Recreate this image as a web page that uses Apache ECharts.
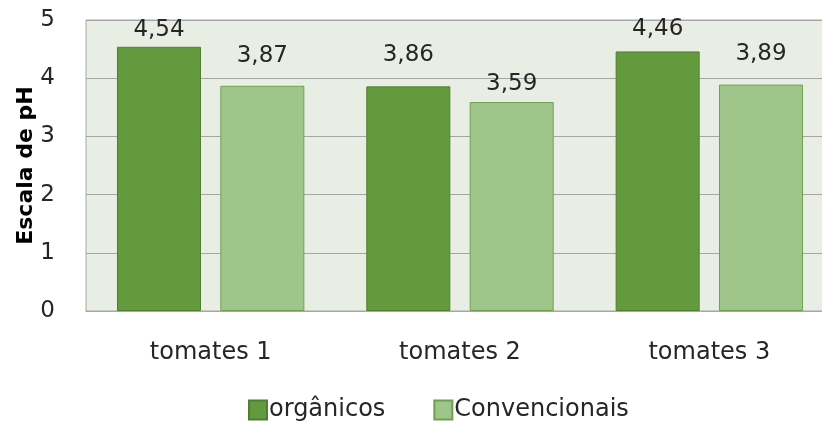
<!DOCTYPE html>
<html>
<head>
    <meta charset="utf-8">
    <title>pH tomates</title>
    <script src="https://cdn.jsdelivr.net/npm/echarts@6/dist/echarts.min.js"></script>
    <style>
        html, body { margin: 0; padding: 0; background: #fff; overflow: hidden; }
        /* the original plot runs past the right edge of the picture */
        #main { width: 834px; height: 421px; }
    </style>
</head>
<body>
    <div id="main"></div>
<script>
var categories = ['tomates 1', 'tomates 2', 'tomates 3'];
var organicos = [4.54, 3.86, 4.46];
var convencionais = [3.87, 3.59, 3.89];
var yTicks = [0, 1, 2, 3, 4, 5];

// the labels were moved by hand in the original, so each one has its own gap
var gapOrg = [5, 20, 11];
var gapConv = [18, 7, 19];

var font = "'DejaVu Sans', sans-serif";
var myChart = echarts.init(document.getElementById('main'));

var fmt = function (p) {
    return p.value.toFixed(2).replace('.', ',');
};

var withGaps = function (values, gaps) {
    var res = [];
    for (var i = 0; i < values.length; i++) {
        res.push({ value: values[i], label: { distance: gaps[i] } });
    }
    return res;
};

var option = {
    animation: false,
    textStyle: { fontFamily: font },
    grid: {
        left: 86, right: 0, top: 20, bottom: 110,
        show: true,
        backgroundColor: '#e9eee5',
        borderColor: '#a6a6a6',
        borderWidth: 1
    },
    legend: {
        top: 398,
        left: 248,
        padding: 0,
        icon: 'rect',
        itemWidth: 18,
        itemHeight: 19,
        itemGap: 48,
        textStyle: { fontSize: 24, lineHeight: 19, color: '#262626', fontFamily: font, padding: [0, 0, 0, -3] },
        data: ['orgânicos', 'Convencionais']
    },
    xAxis: {
        type: 'category',
        data: categories,
        axisLine: { show: true, lineStyle: { color: '#a6a6a6' } },
        axisTick: { show: false },
        axisLabel: { fontSize: 24, color: '#262626', margin: 30, fontFamily: font }
    },
    yAxis: {
        type: 'value',
        min: yTicks[0],
        max: yTicks[yTicks.length - 1],
        interval: 1,
        name: 'Escala de pH',
        nameLocation: 'middle',
        nameGap: 49,
        nameMoveOverlap: false,
        nameTextStyle: { fontSize: 22, fontWeight: 'bold', color: '#000', fontFamily: font },
        axisLine: { show: false },
        axisTick: { show: false },
        axisLabel: { fontSize: 23, color: '#262626', margin: 31, fontFamily: font },
        splitLine: { lineStyle: { color: '#a6a6a6', width: 1 } }
    },
    series: [
        {
            name: 'orgânicos',
            type: 'bar',
            data: withGaps(organicos, gapOrg),
            barWidth: '33.7%',
            barGap: '23%',
            itemStyle: { color: '#629a3d', borderColor: '#4f7f2e', borderWidth: 1 },
            label: { show: true, position: 'top', formatter: fmt, fontSize: 23, color: '#262626', fontFamily: font }
        },
        {
            name: 'Convencionais',
            type: 'bar',
            data: withGaps(convencionais, gapConv),
            barWidth: '33.7%',
            itemStyle: { color: '#a0c58b', borderColor: '#6fa04f', borderWidth: 1 },
            label: { show: true, position: 'top', formatter: fmt, fontSize: 23, color: '#262626', fontFamily: font }
        }
    ]
};

myChart.setOption(option);
</script>
</body>
</html>
